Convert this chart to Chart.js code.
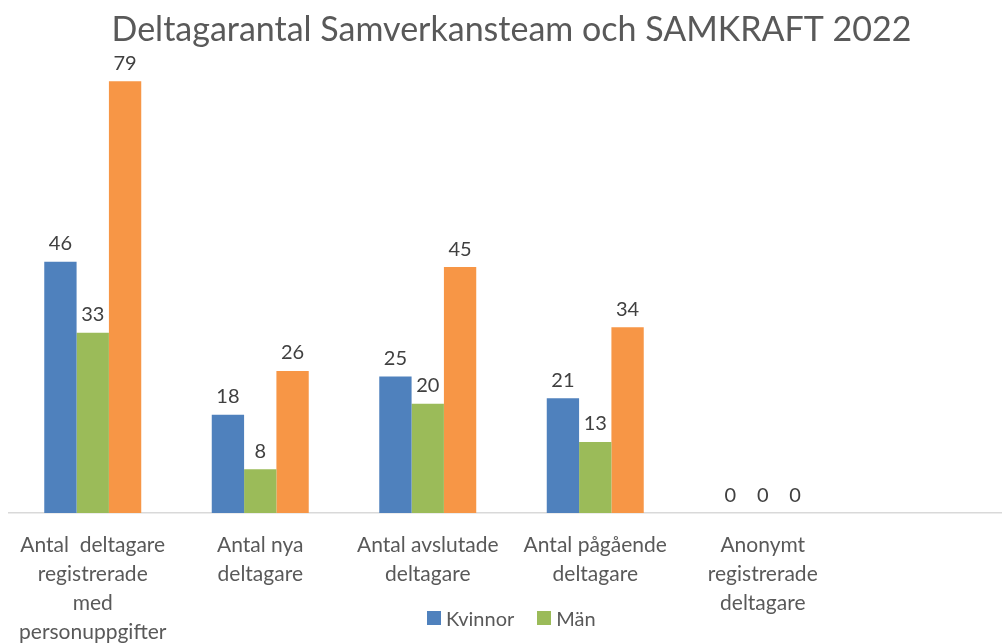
<!DOCTYPE html>
<html>
<head>
<meta charset="utf-8">
<script src="https://cdn.jsdelivr.net/npm/chart.js@4.4.1/dist/chart.umd.min.js"></script>
<style>
    html, body { margin: 0; padding: 0; background: #fff; overflow: hidden; }
    #wrap { position: relative; width: 1002px; height: 644px; overflow: hidden; }
    #box { position: absolute; left: 0; top: 0; width: 1030px; height: 664px; }
    #legend { position: absolute; left: 427px; top: 606px; display: flex; font-family: Lato, sans-serif; font-size: 20px; color: #595959; }
    #legend .item { display: flex; align-items: center; margin-right: 23px; }
    #legend .sw { width: 14px; height: 14px; margin-right: 5px; }
</style>
</head>
<body>
<div id="wrap">
    <div id="box"><canvas id="chart"></canvas></div>
    <div id="legend"></div>
</div>
<script>
// kategorier (sista platsen är tom i originaldiagrammet)
const categories = [
    ['Antal  deltagare', 'registrerade', 'med', 'personuppgifter'],
    ['Antal nya', 'deltagare'],
    ['Antal avslutade', 'deltagare'],
    ['Antal pågående', 'deltagare'],
    ['Anonymt', 'registrerade', 'deltagare'],
    ''
];
const kvinnor = [46, 18, 25, 21, 0];
const man = [33, 8, 20, 13, 0];
const totalt = [79, 26, 45, 34, 0];

const seriesNames = ['Kvinnor', 'Män', 'Totalt'];
const seriesColors = ['#4F81BD', '#9BBB59', '#F79646'];

// skriver värdet ovanför varje stapel
const valueLabels = {
    id: 'valueLabels',
    afterDatasetsDraw(chart) {
        const ctx = chart.ctx;
        ctx.save();
        ctx.font = '20px Lato';
        ctx.fillStyle = '#404040';
        ctx.textAlign = 'center';
        ctx.textBaseline = 'middle';
        chart.data.datasets.forEach((ds, i) => {
            chart.getDatasetMeta(i).data.forEach((bar, j) => {
                const v = ds.data[j];
                if (v === undefined || v === null) return;
                ctx.fillText(String(v), bar.x, bar.y - 18);
            });
        });
        ctx.restore();
    }
};

const ctx = document.getElementById('chart').getContext('2d');
const chart = new Chart(ctx, {
    type: 'bar',
    data: {
        labels: categories,
        datasets: [kvinnor, man, totalt].map((d, i) => ({
            label: seriesNames[i],
            data: d,
            backgroundColor: seriesColors[i],
            borderWidth: 0,
            categoryPercentage: 0.579,
            barPercentage: 1
        }))
    },
    options: {
        responsive: true,
        maintainAspectRatio: false,
        animation: false,
        layout: { padding: { left: 9, right: 16, top: 0, bottom: 0 } },
        plugins: {
            legend: { display: false },
            tooltip: { enabled: false },
            title: {
                display: true,
                text: 'Deltagarantal Samverkansteam och SAMKRAFT 2022',
                color: '#595959',
                font: { family: 'Lato', size: 34, weight: 'normal', lineHeight: 1.2 },
                padding: { top: 10, bottom: 25 }
            }
        },
        scales: {
            x: {
                grid: { display: false, drawTicks: false },
                border: { display: true, color: '#D9D9D9', width: 1.5 },
                ticks: {
                    color: '#595959',
                    font: { family: 'Lato', size: 21, lineHeight: 1.38 },
                    padding: 17.5,
                    maxRotation: 0,
                    autoSkip: false
                }
            },
            y: {
                display: false,
                min: 0,
                max: 80
            }
        }
    },
    plugins: [valueLabels]
});

// förklaring: bara Kvinnor och Män syns i originalet
const legendEl = document.getElementById('legend');
chart.data.datasets.slice(0, 2).forEach(ds => {
    const item = document.createElement('div');
    item.className = 'item';
    const sw = document.createElement('span');
    sw.className = 'sw';
    sw.style.background = ds.backgroundColor;
    const txt = document.createElement('span');
    txt.textContent = ds.label;
    item.appendChild(sw);
    item.appendChild(txt);
    legendEl.appendChild(item);
});
</script>
</body>
</html>
